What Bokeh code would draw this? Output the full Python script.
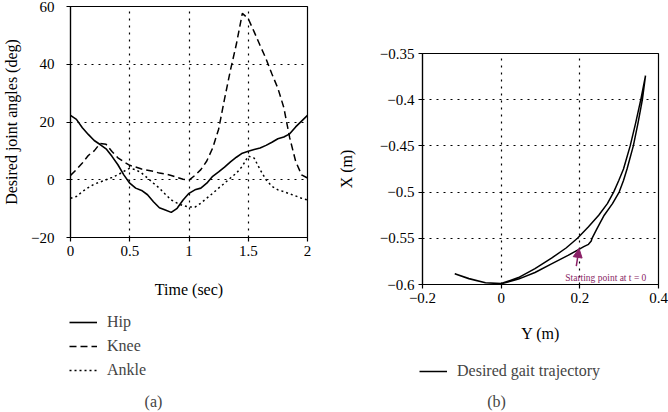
from bokeh.plotting import figure
from bokeh.models import (Range1d, FixedTicker, Label, Legend, LegendItem,
                          Arrow, NormalHead)
from bokeh.layouts import row, column
from bokeh.embed import file_html
from bokeh.resources import INLINE

# ---------------- data: panel (a) ----------------
time_s = [0.0, 0.05, 0.1, 0.15, 0.2, 0.25, 0.3, 0.35, 0.4, 0.45, 0.5, 0.55, 0.6, 0.65,
          0.7, 0.75, 0.8, 0.85, 0.9, 0.95, 1.0, 1.05, 1.1, 1.15, 1.2, 1.25, 1.3, 1.35,
          1.4, 1.45, 1.5, 1.55, 1.6, 1.65, 1.7, 1.75, 1.8, 1.85, 1.9, 1.95, 2.0]
hip = [22.3, 20.9, 18.0, 15.7, 13.6, 12.2, 10.7, 8.1, 5.2, 1.7, -1.2, -2.9, -3.7, -5.2,
       -7.6, -9.7, -10.5, -11.3, -9.9, -7.0, -4.7, -3.5, -2.9, -1.2, 1.2, 2.7, 4.4, 6.2,
       7.8, 9.2, 9.9, 10.5, 11.0, 11.9, 13.0, 14.2, 14.8, 15.9, 18.3, 20.3, 22.3]
knee = [1.5, 3.5, 5.8, 8.4, 10.0, 12.6, 12.3, 9.8, 7.6, 6.2, 5.0, 4.4, 3.7, 3.3,
        2.9, 2.3, 2.0, 1.5, 0.8, 0.2, -0.1, 1.5, 3.5, 6.5, 11.0, 17.5, 28.0, 38.0,
        47.0, 57.6, 55.8, 51.2, 46.5, 41.9, 36.6, 31.7, 25.0, 14.5, 6.4, 1.7, 0.6]
ankle = [-6.4, -5.8, -4.1, -2.7, -1.5, -0.8, 0.0, 0.8, 1.7, 2.9, 4.0, 3.5, 2.3, 0.6,
         -1.2, -2.9, -5.0, -7.0, -8.1, -9.0, -9.4, -9.5, -8.1, -6.4, -4.7, -2.9, -1.2, 0.6,
         2.3, 4.7, 8.2, 7.5, 3.5, 0.0, -2.3, -3.5, -4.1, -4.9, -5.6, -6.4, -7.0]
a_xticks = [0, 0.5, 1, 1.5, 2]
a_xlabels = ["0", "0.5", "1", "1.5", "2"]
a_yticks = [-20, 0, 20, 40, 60]
a_ylabels = ["\u221220", "0", "20", "40", "60"]
a_series = ["Hip", "Knee", "Ankle"]

# ---------------- data: panel (b) ----------------
gait_y = [0.200,
          0.170, 0.128, 0.086, 0.044, 0.000, -0.040, -0.082, -0.118,
          -0.082, -0.040, 0.000, 0.044, 0.086, 0.128, 0.165, 0.194,
          0.222, 0.248, 0.270, 0.286, 0.299, 0.311, 0.328, 0.342, 0.355, 0.367,
          0.359, 0.348, 0.336, 0.320, 0.311, 0.300, 0.283, 0.262, 0.243, 0.231,
          0.229, 0.222, 0.210, 0.200]
gait_x = [-0.5614,
          -0.5685, -0.5776, -0.5870, -0.5942, -0.5992, -0.5980, -0.5935, -0.5884,
          -0.5937, -0.5982, -0.5990, -0.5925, -0.5828, -0.5715, -0.5605, -0.5500,
          -0.5375, -0.5250, -0.5125, -0.5000, -0.4875, -0.4750, -0.4500, -0.4250, -0.4000, -0.3740,
          -0.4000, -0.4250, -0.4500, -0.4750, -0.4875, -0.5000, -0.5125, -0.5250, -0.5400, -0.5500,
          -0.5530, -0.5565, -0.5590, -0.5614]
start_pt = (0.198, -0.561)
b_xticks = [-0.2, 0, 0.2, 0.4]
b_xlabels = ["\u22120.2", "0", "0.2", "0.4"]
b_yticks = [-0.6, -0.55, -0.5, -0.45, -0.4, -0.35]
b_ylabels = ["\u22120.6", "\u22120.55", "\u22120.5", "\u22120.45", "\u22120.4", "\u22120.35"]
b_series = ["Desired gait trajectory"]

FONT = "Liberation Serif"
FS = "15px"
LFS = "16px"
PURPLE = "#8a1f66"
W = 334
NAN = float("nan")


def style(p, xticks, xlabels, yticks, ylabels, ystand, ylab_stand, xlab_stand):
    p.outline_line_color = "black"
    p.outline_line_width = 1.2
    p.xaxis.ticker = FixedTicker(ticks=xticks)
    p.yaxis.ticker = FixedTicker(ticks=yticks)
    p.xaxis.major_label_overrides = dict(zip(xticks, xlabels))
    p.yaxis.major_label_overrides = dict(zip(yticks, ylabels))
    for ax in (p.xaxis, p.yaxis):
        ax.axis_line_width = 1.2
        ax.axis_line_color = "black"
        ax.major_tick_in = 0
        ax.major_tick_out = 4
        ax.major_tick_line_width = 1.2
        ax.minor_tick_line_color = None
        ax.major_label_text_font = FONT
        ax.major_label_text_font_size = FS
        ax.major_label_text_color = "black"
        ax.axis_label_text_font = FONT
        ax.axis_label_text_font_size = LFS
        ax.axis_label_text_font_style = "normal"
        ax.axis_label_text_color = "black"
    p.xaxis.major_label_standoff = 4
    p.yaxis.major_label_standoff = ystand
    p.xaxis.axis_label_standoff = xlab_stand
    p.yaxis.axis_label_standoff = ylab_stand
    for g in (p.xgrid, p.ygrid):
        g.grid_line_color = "black"
        g.grid_line_dash = "2 5"
        g.grid_line_width = 1.2
    p.background_fill_color = "white"
    p.border_fill_color = "white"


def legend_fig(h, styles, labels, loc, caption, cap_xy):
    f = figure(width=W, height=h, output_backend="svg", toolbar_location=None,
               x_range=Range1d(0, W), y_range=Range1d(0, h), frame_align=False,
               x_axis_type=None, y_axis_type=None, min_border=0)
    f.outline_line_color = None
    f.background_fill_color = "white"
    f.border_fill_color = "white"
    items = []
    for st, lab in zip(styles, labels):
        r = f.line([NAN, NAN], [NAN, NAN], line_color="black", **st)
        items.append(LegendItem(label=lab, renderers=[r]))
    f.add_layout(Legend(items=items, location=loc, orientation="vertical",
                        glyph_width=28, glyph_height=20, label_height=20,
                        label_standoff=10, spacing=4, padding=0, margin=0,
                        border_line_color=None, background_fill_alpha=0,
                        label_text_font=FONT, label_text_font_size=LFS))
    f.add_layout(Label(x=cap_xy[0], y=cap_xy[1], text=caption, text_font=FONT,
                       text_font_size=LFS, text_align="center", text_baseline="middle"))
    return f


hip_st = dict(line_width=1.6)
knee_st = dict(line_width=1.5, line_dash="7 4")
ankle_st = dict(line_width=1.5, line_dash="2 3")
gait_st = dict(line_width=1.5)

# ---------------- panel (a) ----------------
pa = figure(width=W, height=303, output_backend="svg", toolbar_location=None,
            x_range=Range1d(0, 2), y_range=Range1d(-20, 60), frame_align=False,
            min_border_left=69, min_border_right=27, min_border_top=6, min_border_bottom=66)
style(pa, a_xticks, a_xlabels, a_yticks, a_ylabels, 12, 8, 22)
pa.xaxis.axis_label = "Time (sec)"
pa.yaxis.axis_label = "Desired joint angles (deg)"
pa.line(time_s, hip, line_color="black", **hip_st)
pa.line(time_s, knee, line_color="black", **knee_st)
pa.line(time_s, ankle, line_color="black", **ankle_st)

la = legend_fig(109, [hip_st, knee_st, ankle_st], a_series, (69, 32), "(a)", (153, 11))

# ---------------- panel (b) ----------------
pb = figure(width=W, height=347, output_backend="svg", toolbar_location=None,
            x_range=Range1d(-0.2, 0.4), y_range=Range1d(-0.6, -0.35), frame_align=False,
            min_border_left=86, min_border_right=10, min_border_top=53, min_border_bottom=63)
style(pb, b_xticks, b_xlabels, b_yticks, b_ylabels, 4, 22, 19)
pb.xaxis.axis_label = "Y (m)"
pb.yaxis.axis_label = "X (m)"
pb.line(gait_y, gait_x, line_color="black", **gait_st)

pb.add_layout(Arrow(end=NormalHead(size=9, fill_color=PURPLE, line_color=PURPLE),
                    x_start=start_pt[0] - 0.007, y_start=start_pt[1] - 0.019,
                    x_end=start_pt[0], y_end=start_pt[1],
                    line_color=PURPLE, line_width=1.5))
pb.add_layout(Label(x=0.163, y=-0.5935, text="Starting point at t = 0", text_font=FONT,
                    text_font_size="9.5px", text_color=PURPLE, text_align="left",
                    text_baseline="middle"))

lb = legend_fig(65, [gait_st], b_series, (85, 31), "(b)", (162, 11))

layout = row(column(pa, la), column(pb, lb))
open("out.html", "w").write(file_html(layout, INLINE))
